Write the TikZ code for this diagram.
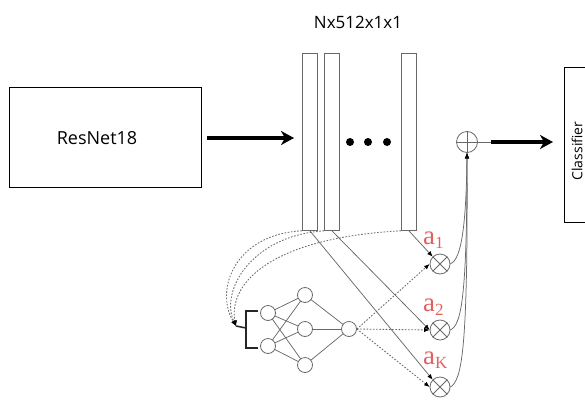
\documentclass[tikz,border=0pt]{standalone}
\usepackage{fontspec}
\setmainfont{Open Sans}
\newfontfamily\labfont{Liberation Serif}
\usetikzlibrary{arrows.meta}
\definecolor{labred}{RGB}{228,96,96}
\definecolor{linegray}{RGB}{105,105,105}
\begin{document}
\begin{tikzpicture}[x=1pt,y=-1pt,
  box/.style={draw=black, line width=1.2pt, inner sep=0pt},
  bar/.style={draw=linegray, line width=0.8pt, fill=white, inner sep=0pt, minimum width=15pt, minimum height=177pt, anchor=north west},
  neuron/.style={circle, draw=linegray, line width=0.8pt, fill=white, minimum size=15pt, inner sep=0pt},
  opc/.style={circle, draw=linegray, line width=0.8pt, minimum size=21pt, inner sep=0pt},
  thin/.style={draw=linegray, line width=0.75pt},
  dots/.style={draw=linegray, line width=0.85pt, dash pattern=on 1.6pt off 1.6pt},
  small/.style={-{Latex[length=5.5pt,width=4.5pt,color=black]}},
  big/.style={line width=3.6pt, -{Stealth[length=13pt,width=14pt,inset=4pt]}},
  lab/.style={text=labred, inner sep=0pt, anchor=base west},
  dot/.style={circle, fill=black, minimum size=8pt, inner sep=0pt}]
\useasboundingbox (0,0) rectangle (585,399);

% boxes
\node[box, minimum width=192pt, minimum height=100pt, anchor=north west] (res) at (9,87) {};
\node[anchor=base, inner sep=0pt, font=\fontsize{18}{18}\selectfont] (restxt) at (97,144) {ResNet18};
\node[box, minimum width=30pt, minimum height=155pt, anchor=north west] (cls) at (564,67) {};
\node[anchor=base, inner sep=0pt, rotate=90, font=\fontsize{14}{14}\selectfont] (clstxt) at (582.3,151) {Classifier};

% title
\node[anchor=base, inner sep=0pt, font=\fontsize{17}{17}\selectfont] (title) at (358,28) {Nx512x1x1};

% bars
\node[bar] (b1) at (302,53) {};
\node[bar] (b2) at (324,53) {};
\node[bar] (b3) at (401,53) {};
\node[dot] (d1) at (350,142) {};
\node[dot] (d2) at (368,142) {};
\node[dot] (d3) at (387,142) {};

% big arrows
\coordinate (ra) at (207,138);
\coordinate (rb) at (294,138);
\draw[big] (ra) -- (rb);

% oplus
\node[opc] (op) at (467,142) {};
\draw[thin] (op.north) -- (op.south) (op.west) -- (op.east);
\coordinate (oa) at (491,142);
\coordinate (ob) at (553,142);
\draw[thin] (op.east) -- (oa);
\draw[big] (oa) -- (ob);

% otimes
\node[opc, minimum size=20pt] (o1) at (440,264) {};
\node[opc, minimum size=20pt] (o2) at (440,330) {};
\node[opc, minimum size=20pt] (o3) at (440,387) {};
\foreach \o in {o1,o2,o3}{
  \draw[thin] (\o.north east) -- (\o.south west) (\o.north west) -- (\o.south east);
}
\draw[thin, small] (o1.east) .. controls (459,260) and (466,240) .. (op.south);
\draw[thin, small] (o2.east) .. controls (461,325) and (467,300) .. (op.south);
\draw[thin, small] (o3.east) .. controls (462,380) and (468,350) .. (op.south);

% labels
\node[lab] (l1) at (423,244.5) {\labfont\fontsize{27}{27}\selectfont a\raisebox{-3.5pt}{\fontsize{17}{17}\selectfont 1}};
\node[lab] (l2) at (423,311.5) {\labfont\fontsize{27}{27}\selectfont a\raisebox{-3.5pt}{\fontsize{17}{17}\selectfont 2}};
\node[lab] (l3) at (423,364.5) {\labfont\fontsize{27}{27}\selectfont a\raisebox{-3.5pt}{\fontsize{17}{17}\selectfont K}};

% network edges
\coordinate (pi1) at (268,313);
\coordinate (pi2) at (268,346);
\coordinate (ph1) at (305,295);
\coordinate (ph2) at (305,329);
\coordinate (ph3) at (305,365);
\coordinate (pout) at (349,329);
\foreach \i in {pi1,pi2}{\foreach \h in {ph1,ph2,ph3}{\draw[thin] (\i) -- (\h);}}
\foreach \h in {ph1,ph2,ph3}{\draw[thin] (\h) -- (pout);}
% neurons
\node[neuron] (i1) at (pi1) {};
\node[neuron] (i2) at (pi2) {};
\node[neuron] (h1) at (ph1) {};
\node[neuron] (h2) at (ph2) {};
\node[neuron] (h3) at (ph3) {};
\node[neuron] (out) at (pout) {};

% solid bar -> otimes
\draw[thin, small] (b3.south) -- (o1.north west);
\draw[thin, small] (b2.south) -- (o2.west);
\draw[thin, small] (b1.south) -- (o3.north west);

% dotted output -> otimes
\draw[dots, small] (out.east) -- (o1.west);
\draw[dots, small] (out.east) -- (o2.west);
\draw[dots, small] (out.east) -- (o3.west);

% bracket
\coordinate (bk) at (236,326);
\draw[black!85, line width=1.5pt] (258,311) -- (246,311) -- (246,348) -- (258,348);
\draw[black!85, line width=1.5pt] (246,328) -- (bk);

% dotted curves
\draw[dots, small] (b1.south west) .. controls (235,234) and (214,290) .. (bk);
\draw[dots, small] (b2.south west) .. controls (250,236) and (220,292) .. (bk);
\draw[dots, small] (b3.south west) .. controls (268,238) and (228,285) .. (bk);
\end{tikzpicture}
\end{document}
